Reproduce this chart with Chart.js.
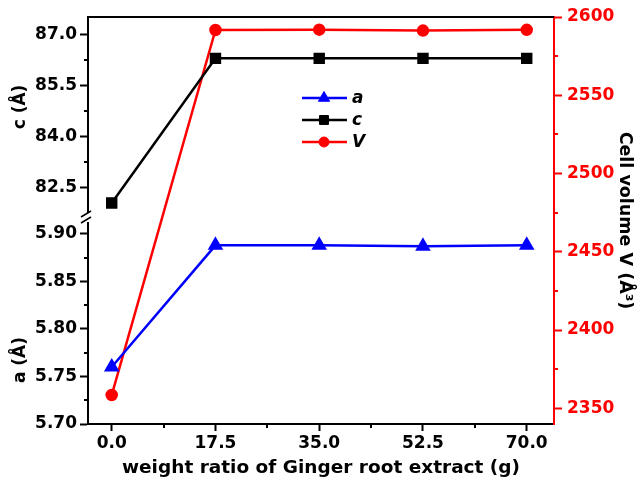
<!DOCTYPE html>
<html>
<head>
<meta charset="utf-8">
<script src="https://cdn.jsdelivr.net/npm/chart.js@4.4.1/dist/chart.umd.min.js"></script>
<style>
  body { margin: 0; background: #fff; }
  canvas { display: block; }
</style>
</head>
<body>
<canvas id="chart" width="644" height="483"></canvas>
<script>
// Values.
const ratio = [0, 17.5, 35, 52.5, 70];
const aValues = [5.760, 5.888, 5.888, 5.887, 5.888];
const cValues = [82.06, 86.29, 86.29, 86.29, 86.29];
const vValues = [2358.5, 2591.7, 2591.9, 2591.3, 2591.8];

const xTicks = [0, 17.5, 35, 52.5, 70];
const aTicks = [5.70, 5.75, 5.80, 5.85, 5.90];
const cTicks = [82.5, 84.0, 85.5, 87.0];
const vTicks = [2350, 2400, 2450, 2500, 2550, 2600];

const FONT = "'DejaVu Sans', sans-serif";
const tickFont = {family: FONT, size: 17, weight: "bold"};

function points(ys) {
    return ratio.map((x, i) => ({x: x, y: ys[i]}));
}

// Minor ticks sit halfway between the labelled ones.
function minorsOf(ticks) {
    const step = ticks[1] - ticks[0];
    return ticks.map(t => t + step / 2);
}

function fixedTicks(values) {
    return scale => {
        scale.ticks = values.map(v => ({value: v}));
    };
}

// Draws minor ticks, the top frame, the axis break, left titles and the legend.
const decorations = {
    id: "decorations",
    afterDraw(chart) {
        const {ctx, chartArea, scales} = chart;
        ctx.save();

        // top frame
        ctx.strokeStyle = "#000";
        ctx.lineWidth = 2;
        ctx.beginPath();
        ctx.moveTo(chartArea.left, chartArea.top);
        ctx.lineTo(chartArea.right, chartArea.top);
        ctx.stroke();

        // minor ticks
        const minorLen = 4;
        ctx.strokeStyle = "#000";
        for (const v of minorsOf(xTicks)) {
            if (v > scales.x.max) continue;
            const px = Math.round(scales.x.getPixelForValue(v));
            ctx.beginPath();
            ctx.moveTo(px, chartArea.bottom);
            ctx.lineTo(px, chartArea.bottom + minorLen);
            ctx.stroke();
        }
        for (const [id, ticks] of [["yA", aTicks], ["yC", cTicks]]) {
            const s = scales[id];
            for (const v of minorsOf(ticks)) {
                if (v > s.max || v < s.min) continue;
                const py = Math.round(s.getPixelForValue(v));
                ctx.beginPath();
                ctx.moveTo(chartArea.left, py);
                ctx.lineTo(chartArea.left - minorLen, py);
                ctx.stroke();
            }
        }
        ctx.strokeStyle = "#ff0000";
        for (const v of minorsOf(vTicks)) {
            if (v > scales.yV.max) continue;
            const py = Math.round(scales.yV.getPixelForValue(v));
            ctx.beginPath();
            ctx.moveTo(chartArea.right, py);
            ctx.lineTo(chartArea.right + minorLen, py);
            ctx.stroke();
        }

        // axis break
        const by = scales.yA.top;
        const lx = chartArea.left;
        ctx.fillStyle = "#fff";
        ctx.fillRect(lx - 2, by - 5, 4, 9);
        ctx.strokeStyle = "#000";
        ctx.lineWidth = 1.5;
        ctx.beginPath();
        ctx.moveTo(lx - 7, by - 1);
        ctx.lineTo(lx + 3, by - 7);
        ctx.moveTo(lx - 7, by + 5);
        ctx.lineTo(lx + 3, by - 1);
        ctx.stroke();

        // left axis titles
        ctx.fillStyle = "#000";
        ctx.font = "bold 17px " + FONT;
        ctx.textAlign = "center";
        ctx.textBaseline = "middle";
        for (const [text, y] of [["c (Å)", 107], ["a (Å)", 360]]) {
            ctx.save();
            ctx.translate(21, y);
            ctx.rotate(-Math.PI / 2);
            ctx.fillText(text, 0, 0);
            ctx.restore();
        }

        // legend
        const rows = [98, 120, 142];
        chart.data.datasets.forEach((ds, i) => {
            const y = rows[i];
            ctx.strokeStyle = ds.borderColor;
            ctx.lineWidth = 2.5;
            ctx.beginPath();
            ctx.moveTo(302, y);
            ctx.lineTo(347, y);
            ctx.stroke();
            ctx.fillStyle = ds.backgroundColor;
            ctx.lineWidth = 1;
            Chart.helpers.drawPoint(ctx, {
                pointStyle: ds.pointStyle,
                radius: ds.pointRadius,
                borderWidth: 1,
                rotation: 0
            }, 324, y);
            ctx.fillStyle = "#000";
            ctx.font = "italic bold 17px " + FONT;
            ctx.textAlign = "left";
            ctx.fillText(ds.label, 352, y + 1);
        });

        ctx.restore();
    }
};

new Chart(document.getElementById("chart"), {
    type: "line",
    data: {
        datasets: [
            {
                label: "a",
                data: points(aValues),
                yAxisID: "yA",
                borderColor: "#0000ff",
                backgroundColor: "#0000ff",
                pointStyle: "triangle",
                pointRadius: 6.5,
                borderWidth: 2.5,
            },
            {
                label: "c",
                data: points(cValues),
                yAxisID: "yC",
                borderColor: "#000000",
                backgroundColor: "#000000",
                pointStyle: "rect",
                pointRadius: 6.3,
                borderWidth: 2.5,
            },
            {
                label: "V",
                data: points(vValues),
                yAxisID: "yV",
                borderColor: "#ff0000",
                backgroundColor: "#ff0000",
                pointStyle: "circle",
                pointRadius: 5,
                borderWidth: 2.5,
            },
        ]
    },
    options: {
        responsive: false,
        devicePixelRatio: 1,
        animation: false,
        layout: {padding: {top: 17, left: 0, right: 0, bottom: 0}},
        plugins: {
            legend: {display: false},
            tooltip: {enabled: false},
        },
        elements: {
            point: {borderWidth: 1},
            line: {tension: 0},
        },
        scales: {
            x: {
                type: "linear",
                min: -4.0,
                max: 74.6,
                afterBuildTicks: fixedTicks(xTicks),
                afterFit: scale => { scale.height = 59; },
                grid: {drawOnChartArea: false, tickLength: 7, tickWidth: 2, tickColor: "#000"},
                border: {color: "#000", width: 2},
                ticks: {
                    color: "#000",
                    font: tickFont,
                    padding: 2,
                    maxRotation: 0,
                    callback: v => v.toFixed(1),
                },
                title: {
                    display: true,
                    text: "weight ratio of Ginger root extract (g)",
                    color: "#000",
                    font: {family: FONT, size: 18.5, weight: "bold"},
                    padding: {top: 0, bottom: 4},
                },
            },
            yA: {
                type: "linear",
                position: "left",
                stack: "left",
                stackWeight: 206,
                min: 5.70,
                max: 5.9168,
                afterBuildTicks: fixedTicks(aTicks),
                afterFit: scale => { scale.width = 88; },
                grid: {drawOnChartArea: false, tickLength: 8, tickWidth: 2, tickColor: "#000"},
                border: {color: "#000", width: 2},
                ticks: {color: "#000", font: tickFont, padding: 3, callback: v => v.toFixed(2)},
            },
            yC: {
                type: "linear",
                position: "left",
                stack: "left",
                stackWeight: 201,
                min: 81.62,
                max: 87.5,
                afterBuildTicks: fixedTicks(cTicks),
                afterFit: scale => { scale.width = 88; },
                grid: {drawOnChartArea: false, tickLength: 8, tickWidth: 2, tickColor: "#000"},
                border: {color: "#000", width: 2},
                ticks: {color: "#000", font: tickFont, padding: 3, callback: v => v.toFixed(1)},
            },
            yV: {
                type: "linear",
                position: "right",
                min: 2340,
                max: 2600,
                afterBuildTicks: fixedTicks(vTicks),
                afterFit: scale => { scale.width = 90; },
                grid: {drawOnChartArea: false, tickLength: 8, tickWidth: 2, tickColor: "#ff0000"},
                border: {color: "#ff0000", width: 2},
                ticks: {color: "#ff0000", font: tickFont, padding: 5, callback: v => String(v)},
                title: {
                    display: true,
                    text: "Cell volume V (Å³)",
                    color: "#000",
                    font: {family: FONT, size: 17.5, weight: "bold"},
                    padding: {top: 9, bottom: 0},
                },
            },
        }
    },
    plugins: [decorations],
});
</script>
</body>
</html>
